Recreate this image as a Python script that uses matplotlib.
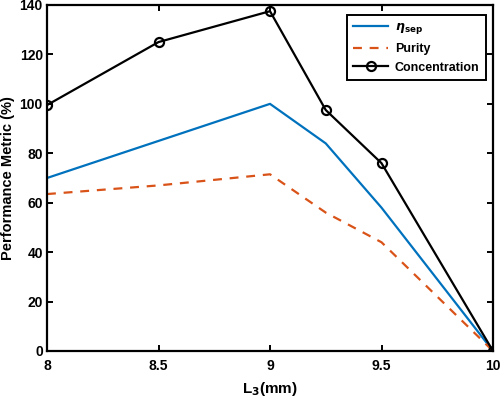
import matplotlib
matplotlib.use("Agg")
import matplotlib.pyplot as plt

plt.rcParams['font.family'] = ['Liberation Sans', 'DejaVu Sans']
plt.rcParams['font.weight'] = 'bold'

x = [8, 8.5, 9, 9.25, 9.5, 10]
eta_sep = [70, 85, 100, 84, 58, 0]
purity = [63.5, 67, 71.5, 56, 44, 0]
concentration = [99.5, 125, 137.5, 97.5, 76, 0]

fig = plt.figure(figsize=(5, 4), dpi=100)
ax = fig.add_axes([0.094, 0.1225, 0.892, 0.865])

ax.plot(x, eta_sep, color='#0072BD', lw=1.6, label=r'$\boldsymbol{\eta}_{\mathbf{sep}}$')
ax.plot(x, purity, color='#D95319', lw=1.6, ls=(0, (4, 3.5)), label='Purity')
ax.plot(x, concentration, color='black', lw=1.6, marker='o', ms=6.5, mfc='none', mew=1.6,
        label='Concentration')

ax.set_xlim(8, 10)
ax.set_ylim(0, 140)
ax.set_xticks([8, 8.5, 9, 9.5, 10])
ax.set_xticklabels(['8', '8.5', '9', '9.5', '10'])
ax.set_yticks(range(0, 141, 20))
ax.tick_params(direction='in', top=True, right=True, labelsize=10, width=1.4, length=4, pad=3)
ax.tick_params(axis='x', pad=6)
for s in ax.spines.values():
    s.set_linewidth(1.6)
for lab in ax.get_xticklabels() + ax.get_yticklabels():
    lab.set_fontweight('bold')

ax.set_xlabel(r'L$_\mathbf{3}$(mm)', fontsize=11, fontweight='bold', labelpad=5)
ax.set_ylabel('Performance Metric (%)', fontsize=10.5, fontweight='bold', labelpad=3)

leg = ax.legend(loc='upper left', bbox_to_anchor=(0.673, 0.972), fancybox=False,
                edgecolor='black', framealpha=1, fontsize=9, handlelength=2.8,
                handletextpad=0.5, borderpad=0.5, labelspacing=0.55, borderaxespad=0)
leg.get_frame().set_linewidth(1.4)
for t in leg.get_texts():
    t.set_fontweight('bold')

fig.savefig('out.png', dpi=100)
